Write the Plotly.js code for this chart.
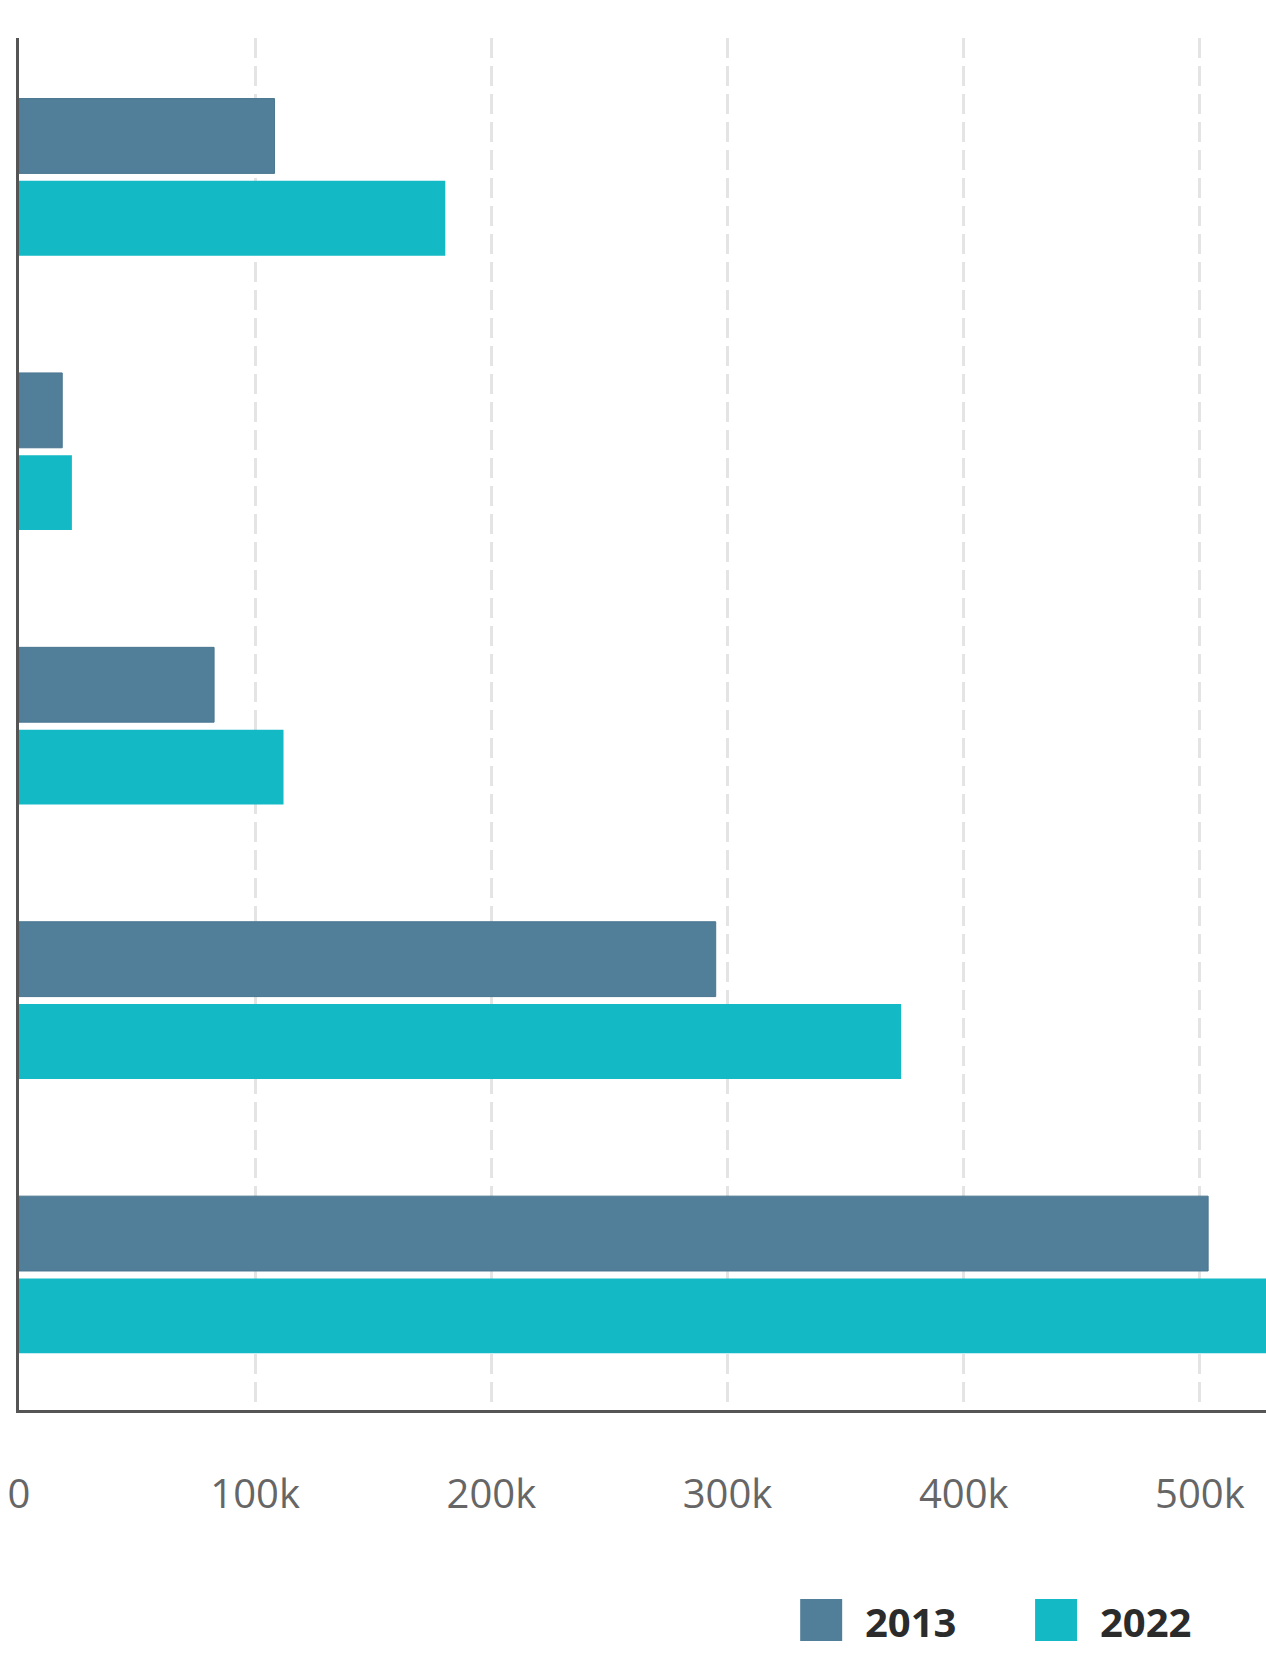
<!DOCTYPE html>
<html>
<head>
<meta charset="utf-8">
<script src="https://cdn.plot.ly/plotly-3.0.1.min.js"></script>
<style>html,body{margin:0;padding:0;background:#fff;}#chart{width:1266px;height:1678px;}</style>
</head>
<body>
<div id="chart"></div>
<script>
// Data
const categories = ["Group 1", "Group 2", "Group 3", "Group 4", "Group 5"];
const seriesNames = ["2013", "2022"];
const values2013 = [108200, 18300, 82600, 295000, 503500];
const values2022 = [180500, 22400, 112000, 373500, 545000];
const tickValues = [0, 100000, 200000, 300000, 400000, 500000];
const tickLabels = ["0", "100k", "200k", "300k", "400k", "500k"];
const colors = ["#517e98", "#13b9c5"];

const traces = [
  {type: "bar", orientation: "h", name: seriesNames[0], y: categories, x: values2013,
   marker: {color: colors[0], line: {color: "#4a7690", width: 1}}, showlegend: false, hoverinfo: "x"},
  {type: "bar", orientation: "h", name: seriesNames[1], y: categories, x: values2022,
   marker: {color: colors[1], line: {width: 0}}, showlegend: false, hoverinfo: "x"}
];

const L = 18.5, PW = 1266 - L, PT = 38, PB = 1410, PH = PB - PT;
// custom legend (large squares)
const legendX = [800, 1035];
const shapes = [];
const annotations = [];
seriesNames.forEach((n, i) => {
  shapes.push({type: "rect", xref: "paper", yref: "paper",
    x0: (legendX[i] - L) / PW, x1: (legendX[i] + 42 - L) / PW,
    y0: (PB - 1641) / PH, y1: (PB - 1599) / PH,
    fillcolor: colors[i], line: {width: 0}});
  annotations.push({xref: "paper", yref: "paper", x: (legendX[i] + 63 - L) / PW,
    y: (PB - 1622) / PH, xanchor: "left", yanchor: "middle", showarrow: false,
    text: "<b>" + n + "</b>", font: {family: "Open Sans", size: 40, color: "#2b2b2b"}});
});

const layout = {
  width: 1266, height: 1678,
  margin: {l: L, r: 0, t: PT, b: 1678 - PB, pad: 0},
  paper_bgcolor: "#ffffff", plot_bgcolor: "#ffffff",
  barmode: "group", bargap: 0.40, bargroupgap: 0.091,
  showlegend: false,
  font: {family: "Open Sans", color: "#666666"},
  xaxis: {
    range: [0, 528000], tickvals: tickValues, ticktext: tickLabels,
    showgrid: true, gridcolor: "#e4e4e4", gridwidth: 3, griddash: "20px,8px",
    zeroline: false, showline: true, linecolor: "#555555", linewidth: 3,
    ticks: "", ticklabelstandoff: 47,
    tickfont: {family: "Open Sans", size: 40, color: "#666666"},
    fixedrange: true
  },
  yaxis: {
    range: [4.493, -0.507], showticklabels: false, ticks: "",
    showgrid: false, zeroline: false, showline: true, linecolor: "#555555", linewidth: 3,
    fixedrange: true
  },
  shapes: shapes,
  annotations: annotations
};

Plotly.newPlot("chart", traces, layout, {displayModeBar: false, staticPlot: true});
</script>
</body>
</html>
